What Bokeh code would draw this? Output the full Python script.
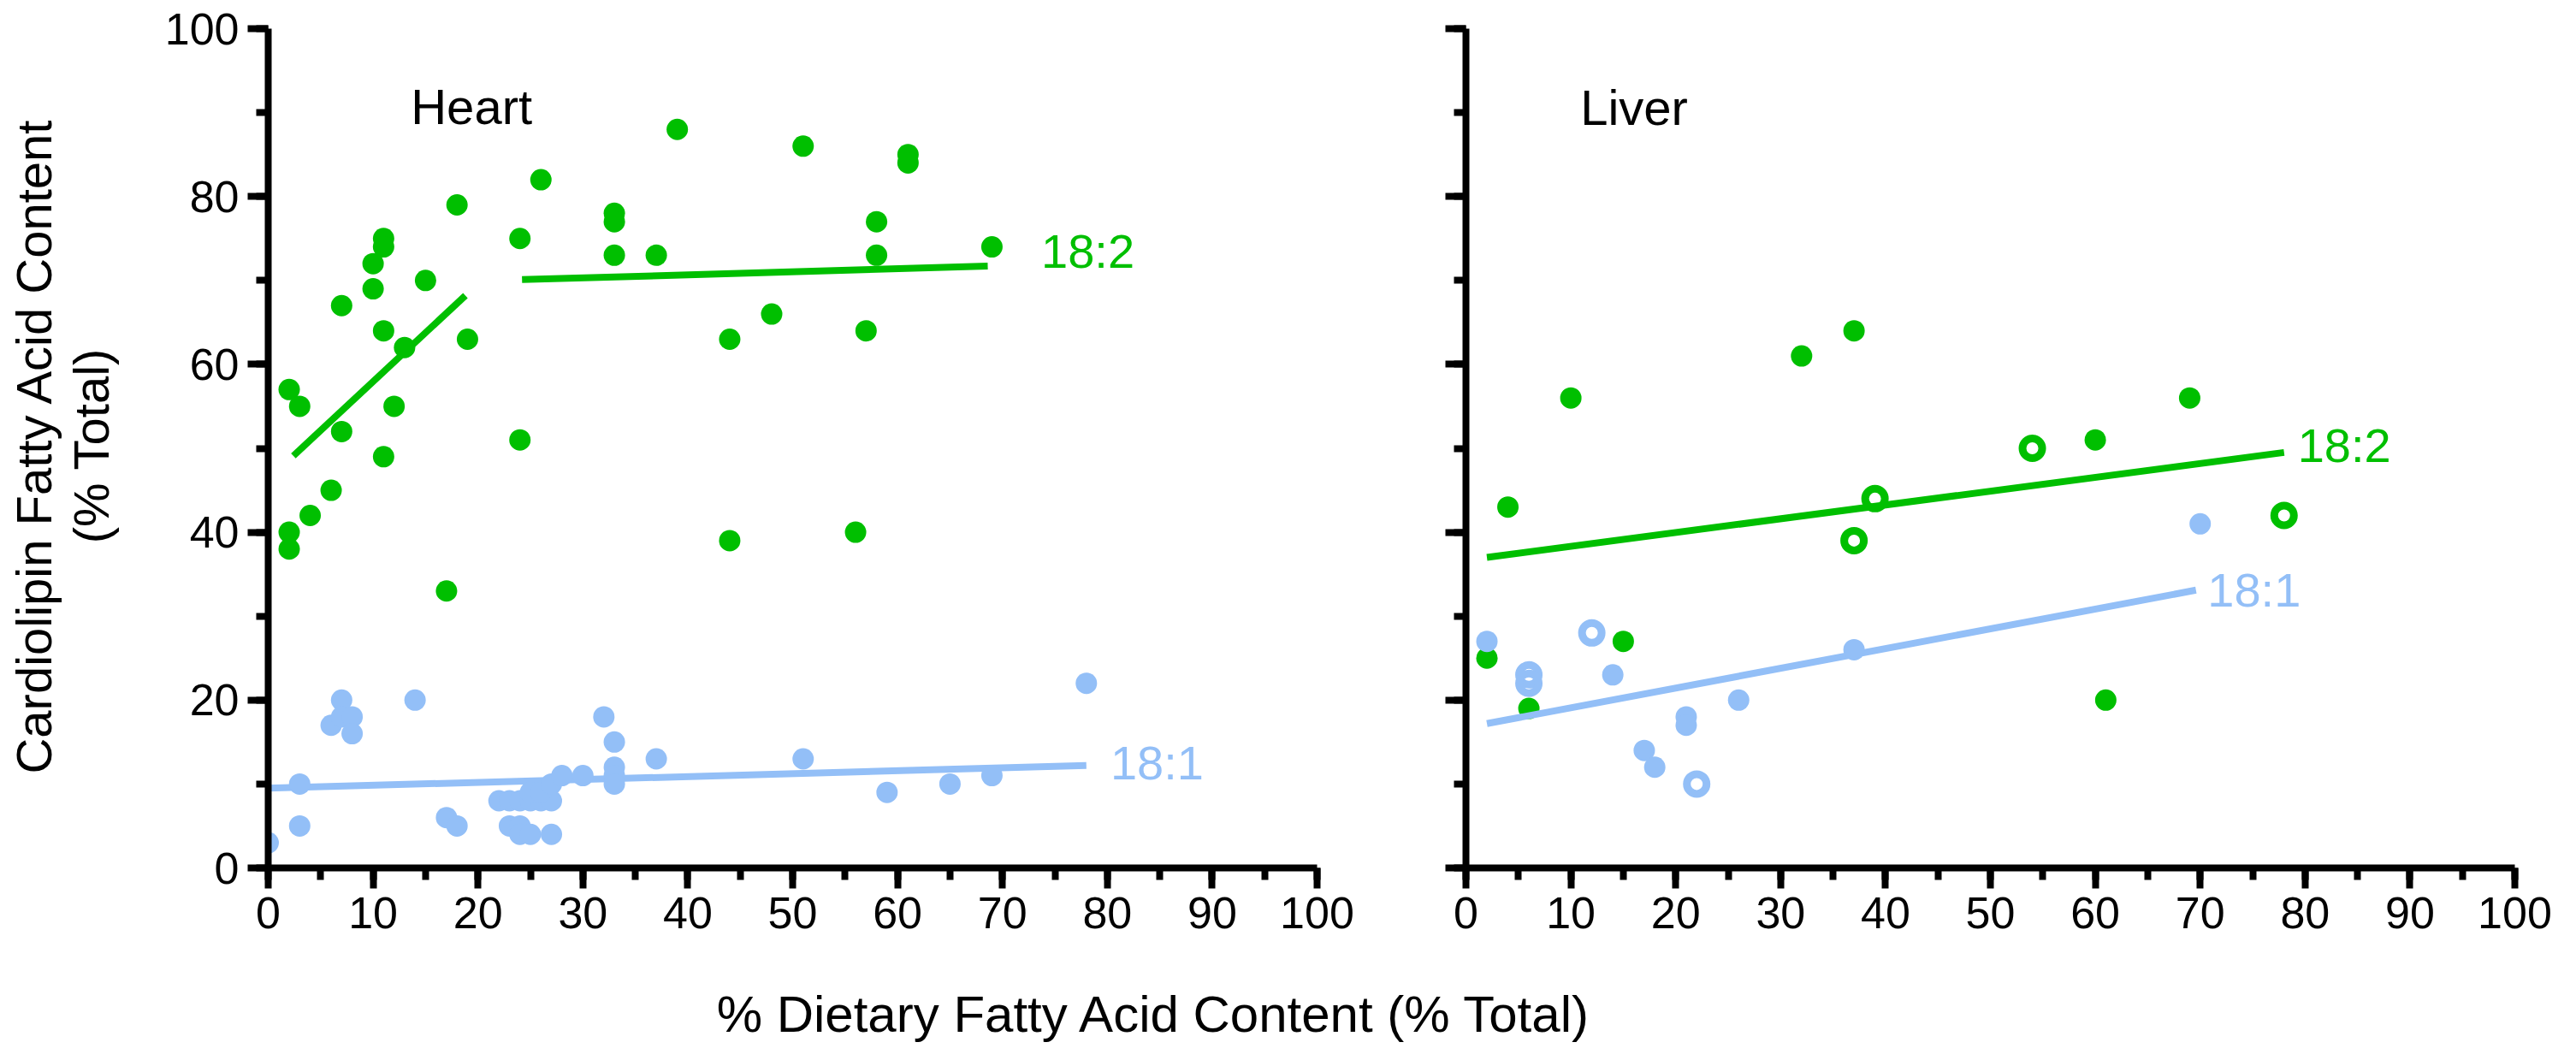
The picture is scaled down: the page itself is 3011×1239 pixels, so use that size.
import numpy as np
from bokeh.plotting import figure
from bokeh.layouts import row, column
from bokeh.models import Range1d, SingleIntervalTicker, Label, CustomJSTickFormatter
from bokeh.embed import file_html
from bokeh.resources import INLINE
from bokeh.core.properties import value

GREEN = "#00BF00"
BLUE = "#93BFF7"
FONT = "Liberation Sans"

# ---------------- data: Heart ----------------
heart_182_x = [2, 3, 7, 11, 12, 13, 11, 7, 10, 10, 11, 11, 15, 18, 19, 24, 24, 26, 33, 33,
               33, 37, 39, 2, 2, 4, 6, 17, 51, 61, 61, 58, 58, 69, 48, 44, 57, 44, 56]
heart_182_y = [57, 55, 52, 49, 55, 62, 64, 67, 69, 72, 75, 74, 70, 79, 63, 75, 51, 82, 78, 77,
               73, 73, 88, 40, 38, 42, 45, 33, 86, 85, 84, 77, 73, 74, 66, 63, 64, 39, 40]

heart_181_x = [0, 3, 3, 6, 7, 7, 8, 8, 14, 17, 18, 22, 23, 24, 25, 26, 27, 25, 26, 27,
               23, 24, 24, 25, 27, 28, 30, 32, 33, 33, 33, 33, 37, 51, 59, 65, 69, 78]
heart_181_y = [3, 10, 5, 17, 20, 18, 18, 16, 20, 6, 5, 8, 8, 8, 8, 8, 8, 9, 9, 10,
               5, 5, 4, 4, 4, 11, 11, 18, 15, 12, 11, 10, 13, 13, 9, 10, 11, 22]

heart_182_fit1_x = [2.4, 18.8]
heart_182_fit1_y = [49.1, 68.2]
heart_182_fit2_x = [24.2, 68.6]
heart_182_fit2_y = [70.1, 71.7]
heart_181_fit_x = [0, 78]
heart_181_fit_y = [9.5, 12.2]

# ---------------- data: Liver ----------------
liver_182_filled_x = [2, 4, 6, 10, 15, 32, 37, 60, 61, 69]
liver_182_filled_y = [25, 43, 19, 56, 27, 61, 64, 51, 20, 56]
liver_182_open_x = [37, 39, 54, 78]
liver_182_open_y = [39, 44, 50, 42]

liver_181_filled_x = [2, 14, 17, 18, 21, 21, 26, 37, 70]
liver_181_filled_y = [27, 23, 14, 12, 18, 17, 20, 26, 41]
liver_181_open_x = [6, 6, 12, 22]
liver_181_open_y = [23, 22, 28, 10]

liver_182_fit_x = [2, 78]
liver_182_fit_y = [37.0, 49.5]
liver_181_fit_x = [2, 69.6]
liver_181_fit_y = [17.2, 33.1]

x_ticks_interval = 10
y_ticks_interval = 20

FRAME_W = 1226
FRAME_H = 981
TOP = 33
BOTTOM = 110
FIG_H = TOP + FRAME_H + BOTTOM

# text baseline correction (px) for Bokeh's text placement
BASE_SHIFT = 14


def make_panel(left_border, right_border, show_y_labels):
    p = figure(width=left_border + FRAME_W + right_border, height=FIG_H,
               x_range=Range1d(0, 100), y_range=Range1d(0, 100),
               output_backend="svg", toolbar_location=None, tools="",
               min_border_left=left_border, min_border_right=right_border,
               min_border_top=TOP, min_border_bottom=BOTTOM)
    p.outline_line_color = None
    p.grid.visible = False
    p.background_fill_color = "white"
    p.border_fill_color = "white"
    p.xaxis.ticker = SingleIntervalTicker(interval=x_ticks_interval, num_minor_ticks=2)
    p.yaxis.ticker = SingleIntervalTicker(interval=y_ticks_interval, num_minor_ticks=2)
    for ax in p.axis:
        ax.axis_line_width = 8
        ax.axis_line_color = "black"
        ax.major_tick_line_width = 8
        ax.minor_tick_line_width = 8
        ax.major_tick_line_color = "black"
        ax.minor_tick_line_color = "black"
        ax.major_tick_in = 0
        ax.minor_tick_in = 0
        ax.major_tick_out = 24
        ax.minor_tick_out = 14
        ax.major_label_text_font = FONT
        ax.major_label_text_font_size = "52px"
        ax.major_label_text_color = "black"
    p.xaxis.major_label_standoff = 10
    p.yaxis.major_label_standoff = 10
    if not show_y_labels:
        p.yaxis.formatter = CustomJSTickFormatter(code="return '';")
    return p


def add_label(p, x, y, text, color, size):
    p.add_layout(Label(x=x, y=y, y_offset=BASE_SHIFT, text=text, text_font=FONT,
                       text_font_size=size, text_color=color, text_baseline="alphabetic"))


# ---------------- Heart panel ----------------
p1 = make_panel(163, 50, True)
p1.line(heart_182_fit1_x, heart_182_fit1_y, line_color=GREEN, line_width=8)
p1.line(heart_182_fit2_x, heart_182_fit2_y, line_color=GREEN, line_width=8)
p1.scatter(heart_182_x, heart_182_y, size=25, fill_color=GREEN, line_color=None)
p1.line(heart_181_fit_x, heart_181_fit_y, line_color=BLUE, line_width=8)
p1.scatter(heart_181_x, heart_181_y, size=25, fill_color=BLUE, line_color=None)

add_label(p1, 13.6, 89.3, "Heart", "black", "58px")
add_label(p1, 73.7, 72.1, "18:2", GREEN, "56px")
add_label(p1, 80.3, 11.1, "18:1", BLUE, "56px")

# ---------------- Liver panel ----------------
p2 = make_panel(124, 50, False)
p2.line(liver_182_fit_x, liver_182_fit_y, line_color=GREEN, line_width=8)
p2.scatter(liver_182_filled_x, liver_182_filled_y, size=25, fill_color=GREEN, line_color=None)
p2.scatter(liver_182_open_x, liver_182_open_y, size=23, fill_color=None,
           line_color=GREEN, line_width=9)
p2.line(liver_181_fit_x, liver_181_fit_y, line_color=BLUE, line_width=8)
p2.scatter(liver_181_filled_x, liver_181_filled_y, size=25, fill_color=BLUE, line_color=None)
p2.scatter(liver_181_open_x, liver_181_open_y, size=23, fill_color=None,
           line_color=BLUE, line_width=9)

add_label(p2, 10.9, 89.2, "Liver", "black", "58px")
add_label(p2, 79.3, 48.9, "18:2", GREEN, "56px")
add_label(p2, 70.7, 31.7, "18:1", BLUE, "56px")

# ---------------- Y axis title (left strip) ----------------
YL_W = 150
YL_CENTER = 565.5
py = figure(width=YL_W, height=FIG_H, x_range=Range1d(0, YL_W), y_range=Range1d(0, FIG_H),
            output_backend="svg", toolbar_location=None, tools="",
            x_axis_type=None, y_axis_type=None, min_border=0)
py.outline_line_color = None
py.grid.visible = False
py.text(x=[53 - BASE_SHIFT], y=[YL_CENTER], text=["Cardiolipin Fatty Acid Content"], angle=np.pi / 2,
        text_align="center", text_baseline="alphabetic", text_font=value(FONT),
        text_font_size="58px", text_color="black")
py.text(x=[120 - BASE_SHIFT], y=[YL_CENTER], text=["(% Total)"], angle=np.pi / 2,
        text_align="center", text_baseline="alphabetic", text_font=value(FONT),
        text_font_size="58px", text_color="black")

# ---------------- X axis title (bottom strip) ----------------
TOTAL_W = YL_W + p1.width + p2.width
XL_H = 99
px = figure(width=TOTAL_W, height=XL_H, x_range=Range1d(0, TOTAL_W), y_range=Range1d(0, XL_H),
            output_backend="svg", toolbar_location=None, tools="",
            x_axis_type=None, y_axis_type=None, min_border=0)
px.outline_line_color = None
px.grid.visible = False
px.text(x=[1349], y=[24 + BASE_SHIFT], text=["% Dietary Fatty Acid Content (% Total)"],
        text_align="center", text_baseline="alphabetic", text_font=value(FONT),
        text_font_size="60px", text_color="black")

layout = column(row(py, p1, p2), px)
open("out.html", "w").write(file_html(layout, INLINE))
